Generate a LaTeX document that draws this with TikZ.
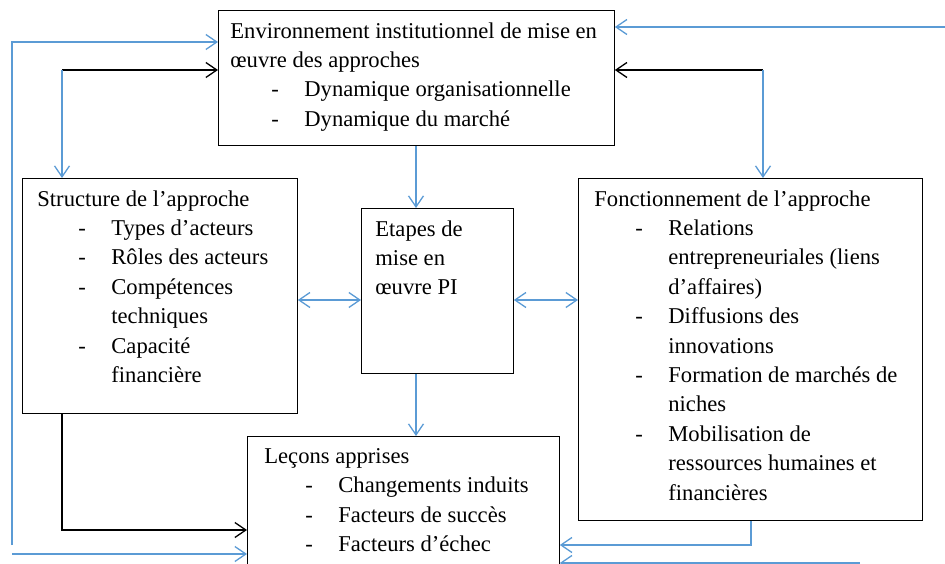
\documentclass[tikz,border=0pt]{standalone}
\usepackage{fontspec}
\setmainfont{Liberation Serif}
\usepackage{tikz}
\usetikzlibrary{arrows.meta}
\pgfdeclarelayer{edgelayer}
\pgfdeclarelayer{nodelayer}
\pgfsetlayers{edgelayer,nodelayer,main}
\definecolor{bleu}{RGB}{91,155,213}
\tikzstyle{box}=[draw, line width=0.8pt, anchor=north west, inner xsep=0pt, inner ysep=12pt, font=\fontsize{22.6}{29.4}\selectfont]
\tikzstyle{bluel}=[color=bleu, line width=1.3pt]
\tikzstyle{blackl}=[color=black, line width=1.3pt]
\newcommand{\tiret}[1]{\par\hangindent=74pt\hangafter=1\noindent\hspace*{41pt}\makebox[33pt][l]{-}#1}
\newcommand{\boxtext}[4]{\parbox[t][#2][t]{#1}{\raggedright\leftskip=#3\relax #4}}

\begin{document}
\begin{tikzpicture}[x=1pt, y=-1pt, >={Straight Barb[length=11pt,width=15pt]}]
	\useasboundingbox (0,0) rectangle (945,564);
	\begin{pgfonlayer}{nodelayer}
		\node [box] (env) at (218, 10) {\boxtext{396pt}{111pt}{12pt}{Environnement institutionnel de mise en\newline œuvre des approches\tiret{Dynamique organisationnelle}\tiret{Dynamique du marché}}};
		\node [box] (struct) at (22, 178) {\boxtext{275pt}{211pt}{15pt}{Structure de l’approche\tiret{Types d’acteurs}\tiret{Rôles des acteurs}\tiret{Compétences\newline techniques}\tiret{Capacité\newline financière}}};
		\node [box] (etapes) at (361, 208) {\boxtext{152pt}{141pt}{14pt}{Etapes de\newline mise en\newline œuvre PI}};
		\node [box] (fonct) at (578, 178) {\boxtext{344pt}{318pt}{16pt}{Fonctionnement de l’approche\tiret{Relations\newline entrepreneuriales (liens\newline d’affaires)}\tiret{Diffusions des\newline innovations}\tiret{Formation de marchés de\newline niches}\tiret{Mobilisation de\newline ressources humaines et\newline financières}}};
		\node [box] (lecons) at (247, 436) {\boxtext{312pt}{126pt}{17pt}{Leçons apprises\tiret{Changements induits}\tiret{Facteurs de succès}\tiret{Facteurs d’échec}}};
	\end{pgfonlayer}
	\begin{pgfonlayer}{edgelayer}
		\coordinate (axe) at (416, 0);
		\coordinate (mid) at (0, 300);
		\coordinate (g1) at (12, 42);
		\coordinate (g2) at (12, 545);
		\coordinate (g3) at (12, 554);
		\coordinate (d1) at (945, 27);
		\coordinate (c1) at (62, 70);
		\coordinate (c2) at (763, 70);
		\coordinate (c3) at (62, 530);
		\coordinate (c4) at (751, 545);
		\coordinate (c5) at (860, 563);
		\draw [bluel, ->] (g2) -- (g1) -- (g1 -| env.west);
		\draw [bluel, ->] (d1) -- (d1 -| env.east);
		\draw [blackl, ->] (c1) -- (c1 -| env.west);
		\draw [bluel, ->] (c1) -- (c1 |- struct.north);
		\draw [blackl, ->] (c2) -- (c2 -| env.east);
		\draw [bluel, ->] (c2) -- (c2 |- fonct.north);
		\draw [bluel, ->] (env.south -| axe) -- (etapes.north -| axe);
		\draw [bluel, ->] (etapes.south -| axe) -- (lecons.north -| axe);
		\draw [bluel, <->] (struct.east |- mid) -- (etapes.west |- mid);
		\draw [bluel, <->] (etapes.east |- mid) -- (fonct.west |- mid);
		\draw [blackl, ->] (c3 |- struct.south) -- (c3) -- (c3 -| lecons.west);
		\draw [bluel, ->] (g3) -- (g3 -| lecons.west);
		\draw [bluel, ->] (c4 |- fonct.south) -- (c4) -- (c4 -| lecons.east);
		\draw [bluel, ->] (c5) -- (c5 -| lecons.east);
	\end{pgfonlayer}
\end{tikzpicture}
\end{document}
